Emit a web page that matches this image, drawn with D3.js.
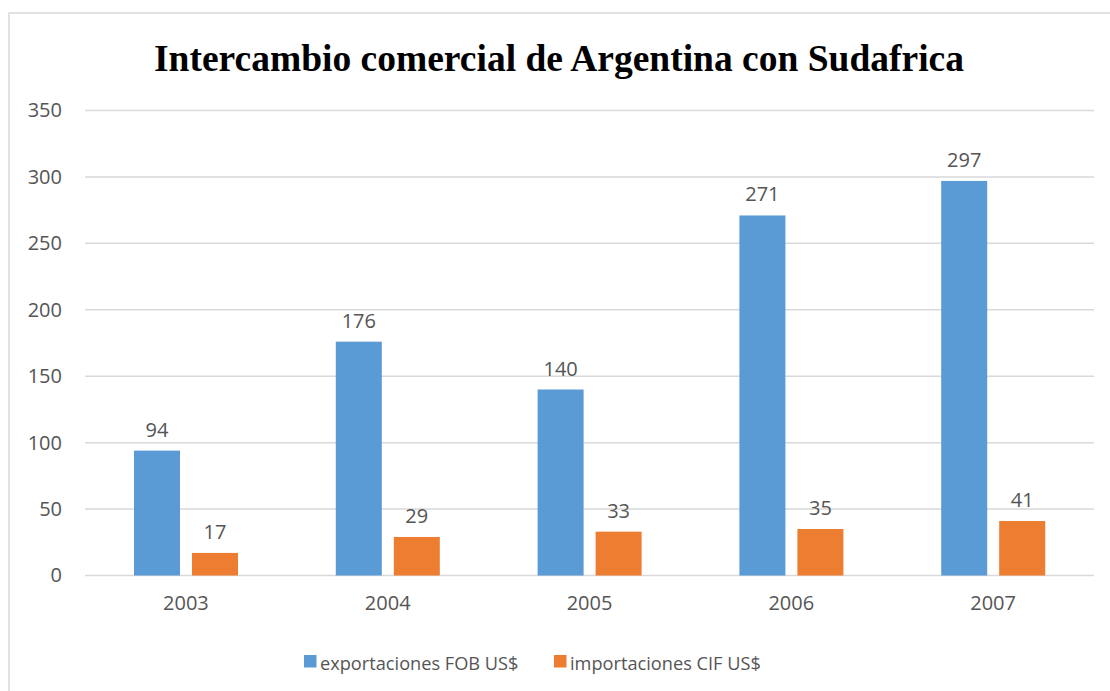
<!DOCTYPE html>
<html>
<head>
<meta charset="utf-8">
<script src="https://cdn.jsdelivr.net/npm/d3@7"></script>
<style>
  body { margin: 0; background: #fff; }
  svg { display: block; }
</style>
</head>
<body>
<div id="chart"></div>
<script>
const years = ["2003", "2004", "2005", "2006", "2007"];
const seriesNames = ["exportaciones FOB US$", "importaciones CIF US$"];
const exportaciones = [94, 176, 140, 271, 297];
const importaciones = [17, 29, 33, 35, 41];
const yTicks = [0, 50, 100, 150, 200, 250, 300, 350];

const colors = ["#5B9BD5", "#ED7D31"];
const textColor = "#555555";
const gridColor = "#d9d9d9";
const labelFont = "'Open Sans', 'DejaVu Sans', sans-serif";

const width = 1110, height = 691;
const plot = {left: 85, right: 1094, top: 110.5, bottom: 575.5};

const svg = d3.select("#chart").append("svg")
    .attr("width", width)
    .attr("height", height);

// chart frame (runs past the picture on right/bottom)
svg.append("rect")
    .attr("x", 9)
    .attr("y", 13)
    .attr("width", 1200)
    .attr("height", 800)
    .attr("fill", "#fff")
    .attr("stroke", gridColor)
    .attr("stroke-width", 1.5);

// title
svg.append("text")
    .attr("x", 559)
    .attr("y", 71)
    .attr("text-anchor", "middle")
    .attr("font-family", "'Liberation Serif', 'Times New Roman', serif")
    .attr("font-weight", "bold")
    .attr("font-size", "37.5px")
    .attr("fill", "#000")
    .text("Intercambio comercial de Argentina con Sudafrica");

// scales
const x0 = d3.scaleBand()
    .domain(years)
    .range([plot.left, plot.right])
    .padding(0);

const x1 = d3.scaleBand()
    .domain([0, 1])
    .range([49, 153])
    .paddingInner(12 / 58);

const y = d3.scaleLinear()
    .domain([0, 350])
    .range([plot.bottom, plot.top]);

// gridlines
svg.append("g")
    .selectAll("line")
    .data(yTicks)
    .enter().append("line")
    .attr("x1", plot.left)
    .attr("x2", plot.right)
    .attr("y1", d => y(d))
    .attr("y2", d => y(d))
    .attr("stroke", gridColor)
    .attr("stroke-width", 1.5);

// y axis labels
const yAxis = svg.append("g")
    .attr("transform", `translate(${plot.left},0)`)
    .call(d3.axisLeft(y).tickValues(yTicks).tickSize(0).tickPadding(23));
yAxis.select(".domain").remove();
yAxis.selectAll("text")
    .attr("font-family", labelFont)
    .attr("font-size", "20px")
    .attr("fill", textColor);

// x axis labels
const xAxis = svg.append("g")
    .attr("transform", `translate(0,${plot.bottom})`)
    .call(d3.axisBottom(x0).tickSize(0).tickPadding(20));
xAxis.select(".domain").remove();
xAxis.selectAll("text")
    .attr("font-family", labelFont)
    .attr("font-size", "20px")
    .attr("fill", textColor);

// bars
const rows = years.map((yr, i) => ({year: yr, values: [exportaciones[i], importaciones[i]]}));

const groups = svg.selectAll(".group")
    .data(rows)
    .enter().append("g")
    .attr("class", "group")
    .attr("transform", d => `translate(${x0(d.year)},0)`);

groups.selectAll("rect")
    .data(d => d.values.map((v, k) => ({k, v})))
    .enter().append("rect")
    .attr("x", d => x1(d.k))
    .attr("y", d => y(d.v))
    .attr("width", x1.bandwidth())
    .attr("height", d => y(0) - y(d.v))
    .attr("fill", d => colors[d.k]);

groups.selectAll("text.value")
    .data(d => d.values.map((v, k) => ({k, v})))
    .enter().append("text")
    .attr("class", "value")
    .attr("x", d => x1(d.k) + x1.bandwidth() / 2)
    .attr("y", d => y(d.v) - 14)
    .attr("text-anchor", "middle")
    .attr("font-family", labelFont)
    .attr("font-size", "20px")
    .attr("fill", textColor)
    .text(d => d.v);

// legend
const legendX = [304, 554];
const legend = svg.append("g");
legend.selectAll("rect")
    .data(seriesNames)
    .enter().append("rect")
    .attr("x", (d, i) => legendX[i])
    .attr("y", 655)
    .attr("width", 12.5)
    .attr("height", 12.5)
    .attr("fill", (d, i) => colors[i]);
legend.selectAll("text")
    .data(seriesNames)
    .enter().append("text")
    .attr("x", (d, i) => legendX[i] + 16)
    .attr("y", 670)
    .attr("font-family", labelFont)
    .attr("font-size", "18.2px")
    .attr("fill", textColor)
    .text(d => d);
</script>
</body>
</html>
